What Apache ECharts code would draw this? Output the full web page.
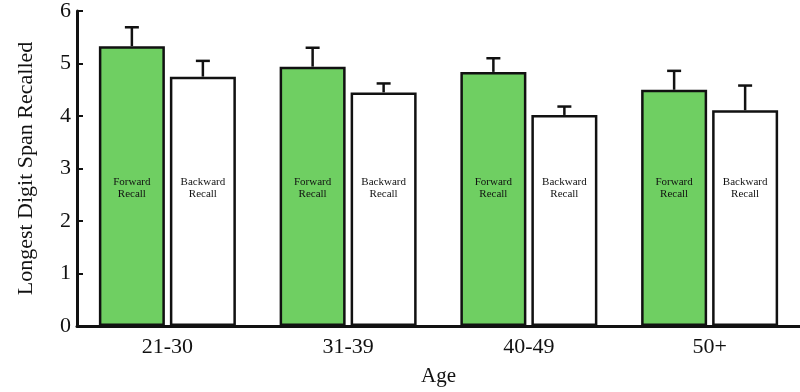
<!DOCTYPE html>
<html><head><meta charset="utf-8">
<script src="https://cdn.jsdelivr.net/npm/echarts@6/dist/echarts.min.js"></script>
<style>html,body{margin:0;padding:0;background:#fff}#c{width:800px;height:392px}</style>
</head><body><div id="c"></div>
<script>
const categories = ['21-30', '31-39', '40-49', '50+'];
const forwardMean = [5.33, 4.94, 4.84, 4.50];
const forwardErr = [0.36, 0.36, 0.26, 0.36];
const backwardMean = [4.75, 4.45, 4.02, 4.11];
const backwardErr = [0.30, 0.17, 0.16, 0.47];
const yTicks = [0, 1, 2, 3, 4, 5, 6];

const BAR_W = 66, GAP = 5;
const serif = 'Liberation Serif, Times New Roman, serif';

function errSeries(means, errs, side) {
  return {
    type: 'custom', z: 5,
    data: means.map((m, i) => [i, m, m + errs[i]]),
    renderItem: function (params, api) {
      const base = api.coord([api.value(0), api.value(1)]);
      const top = api.coord([api.value(0), api.value(2)]);
      const off = side * (BAR_W + GAP) / 2;
      const x = base[0] + off;
      const st = {stroke: '#111', lineWidth: 2.5};
      return {type: 'group', children: [
        {type: 'line', shape: {x1: x, y1: base[1], x2: x, y2: top[1]}, style: st},
        {type: 'line', shape: {x1: x - 7, y1: top[1], x2: x + 7, y2: top[1]}, style: st}
      ]};
    }
  };
}

const chart = echarts.init(document.getElementById('c'));
chart.setOption({
  animation: false,
  grid: {left: 77, right: 0, top: 11, bottom: 66},
  xAxis: {
    type: 'category', data: categories,
    name: 'Age', nameLocation: 'middle', nameGap: 40,
    nameTextStyle: {fontFamily: serif, fontSize: 21, color: '#111'},
    axisLine: {lineStyle: {color: '#111', width: 3}},
    axisTick: {inside: true, length: 5, lineStyle: {color: '#111', width: 2.5}},
    axisLabel: {fontFamily: serif, fontSize: 22, color: '#111', margin: 10}
  },
  yAxis: {
    type: 'value', min: yTicks[0], max: yTicks[yTicks.length - 1], interval: 1,
    name: 'Longest Digit Span Recalled', nameLocation: 'middle', nameGap: 40,
    nameTextStyle: {fontFamily: serif, fontSize: 22, color: '#111'},
    axisLine: {show: true, lineStyle: {color: '#111', width: 3}},
    axisTick: {show: true, inside: true, length: 6, lineStyle: {color: '#111', width: 2}},
    axisLabel: {fontFamily: serif, fontSize: 22, color: '#111', margin: 6},
    splitLine: {show: false}
  },
  series: [
    {
      type: 'bar', name: 'Forward Recall', data: forwardMean,
      barWidth: BAR_W, barGap: (GAP / BAR_W * 100) + '%',
      itemStyle: {color: '#6fcf62', borderColor: '#111', borderWidth: 2.5},
      label: {show: true, position: 'insideBottom', distance: 126, formatter: 'Forward\nRecall',
        fontFamily: serif, fontSize: 11, color: '#111', lineHeight: 12}
    },
    {
      type: 'bar', name: 'Backward Recall', data: backwardMean,
      barWidth: BAR_W,
      itemStyle: {color: '#ffffff', borderColor: '#111', borderWidth: 2.5},
      label: {show: true, position: 'insideBottom', distance: 126, formatter: 'Backward\nRecall',
        fontFamily: serif, fontSize: 11, color: '#111', lineHeight: 12}
    },
    errSeries(forwardMean, forwardErr, -1),
    errSeries(backwardMean, backwardErr, 1)
  ]
});
</script></body></html>
